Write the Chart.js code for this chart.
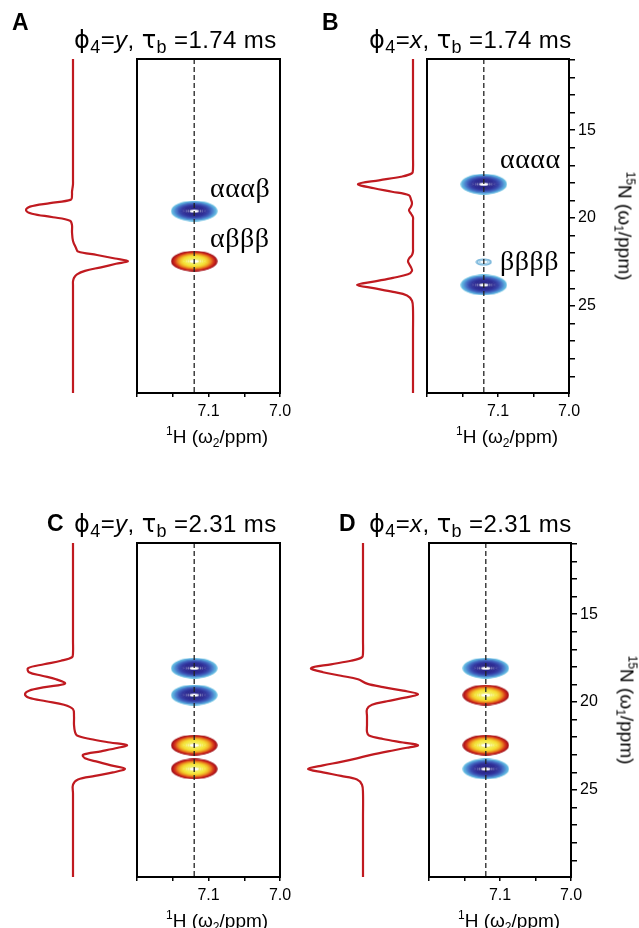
<!DOCTYPE html>
<html>
<head>
<meta charset="utf-8">
<title>Spin-state selective 15N spectra</title>
<script src="https://cdn.jsdelivr.net/npm/chart.js@4.4.1/dist/chart.umd.min.js"></script>
<style>
  body { margin: 0; background: #fff; }
  #page { position: relative; width: 639px; height: 928px; overflow: hidden;
          font-family: "Liberation Sans", Arial, sans-serif; color: #000; }
  #page canvas { position: absolute; }
  .txt { position: absolute; white-space: nowrap; line-height: 1; }
  .lbl { font-weight: bold; font-size: 23px; }
  .ttl { font-size: 24px; letter-spacing: 0.4px; }
  .ttl .gk { font-family: "DejaVu Sans", sans-serif; font-size: 24px; line-height: 0; }
  .ttl sub { font-size: 18px; vertical-align: -5px; line-height: 0; }
  .ax { font-size: 19px; }
  .ax sup { font-size: 12px; vertical-align: 8px; line-height: 0; }
  .ax sub { font-size: 12px; vertical-align: -4px; line-height: 0; }
  .spin { font-family: "Liberation Serif", serif; font-size: 28px; letter-spacing: 0.5px; }
  .rot { transform: translate(-50%, -50%) rotate(90deg); }
</style>
</head>
<body>
<div id="page"></div>
<script>
// Data

const panelIds = ['A', 'B', 'C', 'D'];
const phi4 = ['y', 'x', 'y', 'x'];
const tauB = ['1.74', '1.74', '2.31', '2.31'];

// 1H shift of the cross peaks and axis ranges (ppm)
const h1Peak = 7.12;
const h1Range = [7.0, 7.2];
const n15Range = [10.95, 29.95];

// ticks
const h1Ticks = [7.2, 7.15, 7.1, 7.05, 7.0];
const h1TickLabels = ['', '', '7.1', '', '7.0'];
const n15Ticks = [11, 12, 13, 14, 15, 16, 17, 18, 19, 20, 21, 22, 23, 24, 25, 26, 27, 28, 29];
const n15TickLabels = ['', '', '', '', '15', '', '', '', '', '20', '', '', '', '', '25', '', '', '', ''];

// cross peaks: 15N shift and phase of each contour
const peaksA = [19.6, 22.45];
const signsA = ['neg', 'pos'];
const peaksB = [18.07, 22.5, 23.8];
const signsB = ['neg', 'weak', 'neg'];
const peaksC = [18.07, 19.6, 22.45, 23.8];
const signsC = ['neg', 'neg', 'pos', 'pos'];
const peaksD = [18.07, 19.6, 22.45, 23.8];
const signsD = ['neg', 'pos', 'pos', 'neg'];

// 15N projections (red traces), intensity at each ppm point
const traceppm = [10.95, 13, 15, 16.5, 17.2, 17.45, 17.65, 17.85, 18.07, 18.3, 18.5, 18.7, 18.95, 19.15,
  19.35, 19.55, 19.75, 19.95, 20.15, 20.4, 20.8, 21.3, 21.7, 21.9, 22.1, 22.3, 22.45, 22.6, 22.8, 23.0,
  23.2, 23.4, 23.6, 23.8, 24.0, 24.2, 24.4, 24.7, 25.2, 26.5, 28, 29.95];
const traceA = [0, 0, 0, 0, 0, 0, 0, 0, 0, -0.5, -1, -1, -2, -23,
  -43, -47, -41, -20, -3, -1, -1, 0, 3, 5, 24, 42, 55, 43, 28, 12,
  4, 1, 0, 0, 0, 0, 0, 0, 0, 0, 0, 0];
const traceB = [0, 0, 0, 0, 0, -1, -12, -34, -55, -39, -21, -4, -2, -1,
  -2, -4, -2, 0, 0, 0, 0, 0, 0, 0, -1, -4, -5, -4, -2, -1,
  -5, -20, -38, -56, -38, -20, -6, -1, 0, 0, 0, 0];
const traceC = [0, 0, 0, 0, 0, -1, -12, -29, -45, -44, -31, -17, -8, -28,
  -44, -48, -44, -27, -9, 0, 1, 1, 2, 4, 17, 37, 54, 45, 28, 10,
  12, 25, 38, 52, 40, 22, 5, 0, 0, 0, 0, 0];
const traceD = [0, 0, 0, 0, 0, -1, -12, -32, -52, -40, -22, -5, 4, 20,
  40, 55, 42, 24, 9, 4, 4, 4, 4, 6, 20, 40, 55, 44, 25, 8,
  -6, -22, -40, -55, -40, -22, -6, -1, 0, 0, 0, 0];

const spinLabels = [
  { text: 'αααβ', left: 210, top: 174 },
  { text: 'αβββ', left: 210, top: 224 },
  { text: 'αααα', left: 500, top: 145 },
  { text: 'ββββ', left: 500, top: 247 }
];

// Layout of the four panels (pixels)
const panels = [
  { id: 'A', top: 59, traceLeft: 15, traceW: 120, base: 73, boxL: 137, boxR: 280, yAxis: false,
    peaks: peaksA, signs: signsA, trace: traceA },
  { id: 'B', top: 59, traceLeft: 345, traceW: 80, base: 413, boxL: 427, boxR: 569, yAxis: true,
    peaks: peaksB, signs: signsB, trace: traceB },
  { id: 'C', top: 543, traceLeft: 15, traceW: 120, base: 73, boxL: 137, boxR: 280, yAxis: false,
    peaks: peaksC, signs: signsC, trace: traceC },
  { id: 'D', top: 543, traceLeft: 300, traceW: 125, base: 363, boxL: 429, boxR: 571, yAxis: true,
    peaks: peaksD, signs: signsD, trace: traceD }
];
const boxH = 334;
const tickFont = { family: 'Liberation Sans', size: 16 };

const page = document.getElementById('page');

// colour ramp helper
function mix(palette, t) {
  const rgb = palette.map(h => [1, 3, 5].map(i => parseInt(h.substr(i, 2), 16)));
  const s = t * (rgb.length - 1);
  const i = Math.min(Math.floor(s), rgb.length - 2);
  const f = s - i;
  const c = rgb[i].map((v, k) => Math.round(v + (rgb[i + 1][k] - v) * f));
  return 'rgb(' + c.join(',') + ')';
}

// concentric contour ellipses used as point style
function contourMarker(w, h, palette, levels, lw) {
  const c = document.createElement('canvas');
  c.width = w;
  c.height = h;
  const g = c.getContext('2d');
  for (let k = 0; k < levels; k++) {
    const f = Math.sqrt((levels - k) / levels);
    g.strokeStyle = mix(palette, levels > 1 ? k / (levels - 1) : 0);
    g.lineWidth = lw;
    g.beginPath();
    g.ellipse(w / 2, h / 2, (w / 2 - 1) * f, (h / 2 - 1) * f, 0, 0, Math.PI * 2);
    g.stroke();
  }
  return c;
}

const markers = {
  neg: contourMarker(47, 21, ['#6cc4e4', '#58a4da', '#4878c8', '#3a4cb0', '#302f98', '#2b288a'], 18, 1.4),
  pos: contourMarker(47, 21, ['#9a1018', '#c01c1c', '#d8401a', '#ea8420', '#f2c02a', '#f4e636', '#f2ec60'], 18, 1.4),
  weak: contourMarker(17, 8, ['#6fb0d8', '#9ccbe6'], 3, 1.2)
};

// box around the 2D plot
const framePlugin = {
  id: 'frame',
  afterDatasetsDraw(chart) {
    const { ctx, chartArea: a } = chart;
    ctx.save();
    ctx.strokeStyle = '#000';
    ctx.lineWidth = 2;
    ctx.strokeRect(a.left, a.top, a.right - a.left, a.bottom - a.top);
    ctx.restore();
  }
};

function addText(cls, html, left, top) {
  const d = document.createElement('div');
  d.className = 'txt ' + cls;
  d.innerHTML = html;
  d.style.left = left + 'px';
  d.style.top = top + 'px';
  page.appendChild(d);
  return d;
}

function newCanvas(left, top, w, h) {
  const cv = document.createElement('canvas');
  cv.width = w;
  cv.height = h;
  cv.style.left = left + 'px';
  cv.style.top = top + 'px';
  page.appendChild(cv);
  return cv;
}

function makeTrace(p) {
  const cv = newCanvas(p.traceLeft, p.top - 5, p.traceW, boxH + 10);
  new Chart(cv, {
    type: 'scatter',
    data: {
      datasets: [{
        data: traceppm.map((ppm, i) => ({ x: p.trace[i], y: ppm })),
        showLine: true,
        pointRadius: 0,
        borderColor: '#c01a20',
        borderWidth: 2.2,
        tension: 0.35
      }]
    },
    options: {
      responsive: false,
      animation: false,
      events: [],
      layout: { padding: { top: 5, bottom: 5, left: 0, right: 0 } },
      plugins: { legend: { display: false }, tooltip: { enabled: false } },
      scales: {
        x: { display: false, min: p.traceLeft - p.base, max: p.traceLeft + p.traceW - p.base },
        y: { display: false, reverse: true, min: n15Range[0], max: n15Range[1] }
      }
    }
  });
}

function makeSpectrum(p) {
  const padR = p.yAxis ? 13 : 17;
  const yW = p.yAxis ? 35 : 0;
  const cv = newCanvas(p.boxL - 10, p.top - 10, (p.boxR - p.boxL) + 10 + padR + yW, boxH + 66);
  new Chart(cv, {
    type: 'scatter',
    data: {
      datasets: [
        {
          // dashed guide at the 1H shift
          data: [{ x: h1Peak, y: n15Range[0] }, { x: h1Peak, y: n15Range[1] }],
          showLine: true,
          pointRadius: 0,
          borderColor: '#222',
          borderWidth: 1.3,
          borderDash: [5, 3]
        },
        {
          data: p.peaks.map(n => ({ x: h1Peak, y: n })),
          pointRadius: 4,
          pointStyle: c => markers[p.signs[c.dataIndex]] || markers.neg
        }
      ]
    },
    options: {
      responsive: false,
      animation: false,
      events: [],
      layout: { padding: { left: 10, top: 10, right: padR, bottom: 16 } },
      plugins: { legend: { display: false }, tooltip: { enabled: false } },
      scales: {
        x: {
          type: 'linear',
          min: h1Range[0],
          max: h1Range[1],
          reverse: true,
          afterBuildTicks: s => { s.ticks = h1Ticks.map(v => ({ value: v })); },
          afterFit: s => { s.height = 40; s.paddingLeft = 0; s.paddingRight = 0; },
          ticks: {
            autoSkip: false,
            maxRotation: 0,
            padding: 5,
            color: '#000',
            font: tickFont,
            callback: (v, i) => h1TickLabels[i]
          },
          grid: { display: true, drawOnChartArea: false, drawTicks: true, tickLength: 4, color: '#000', lineWidth: 1.5 },
          border: { display: false }
        },
        y: {
          type: 'linear',
          display: p.yAxis,
          position: 'right',
          min: n15Range[0],
          max: n15Range[1],
          reverse: true,
          afterBuildTicks: s => { s.ticks = n15Ticks.map(v => ({ value: v })); },
          afterFit: s => { s.width = yW; s.paddingTop = 0; s.paddingBottom = 0; },
          ticks: {
            autoSkip: false,
            padding: 3,
            color: '#000',
            font: tickFont,
            callback: (v, i) => n15TickLabels[i]
          },
          grid: { display: true, drawOnChartArea: false, drawTicks: true, tickLength: 6, color: '#000', lineWidth: 1.5 },
          border: { display: false }
        }
      }
    },
    plugins: [framePlugin]
  });
}

function buildFigure() {
  panels.forEach((p, i) => {
    makeTrace(p);
    makeSpectrum(p);

    const row = p.top - 59;
    const left = p.boxL < 300;
    const title = '<span class="gk">ϕ</span><sub>4</sub>=<i>' + phi4[i] + '</i>, <span class="gk">τ</span><sub>b</sub> =' + tauB[i] + ' ms';
    addText('ttl', title, left ? 74 : 369, 28 + row);

    if (row === 0) {
      addText('lbl', panelIds[i], left ? 12 : 322, 11);
    } else {
      addText('lbl', panelIds[i], left ? 47 : 339, 512);
    }

    addText('ax', '<sup>1</sup>H (ω<sub>2</sub>/ppm)', p.boxL + 29, 427 + row);
    if (p.yAxis) {
      addText('ax rot', '<sup>15</sup>N (ω<sub>1</sub>/ppm)', p.boxR + 56, 226 + row);
    }
  });

  spinLabels.forEach(s => addText('spin', s.text, s.left, s.top));
}

document.addEventListener('DOMContentLoaded', buildFigure);
</script>
</body>
</html>
